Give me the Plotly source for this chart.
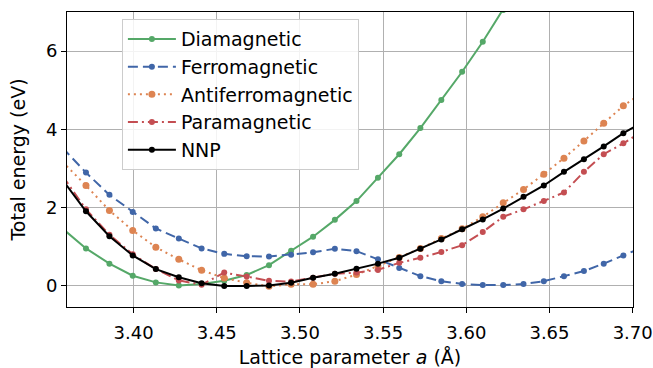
import plotly.graph_objects as go

# Lattice parameter grid (Å)
lattice = [3.3572, 3.3714, 3.3855, 3.3995, 3.4134, 3.4272, 3.4409, 3.4545,
           3.4680, 3.4814, 3.4947, 3.5079, 3.5210, 3.5340, 3.5469, 3.5597,
           3.5724, 3.5850, 3.5975, 3.6099, 3.6222, 3.6344, 3.6466, 3.6587,
           3.6707, 3.6826, 3.6944, 3.7062]

# Total energies (eV) for each magnetic configuration
diamagnetic = [1.46, 0.95, 0.56, 0.25, 0.08, 0.00, 0.04, 0.12, 0.27, 0.52,
               0.89, 1.25, 1.68, 2.16, 2.76, 3.36, 4.03, 4.75, 5.47, 6.24,
               7.05, 7.90]
ferromagnetic = [3.53, 2.89, 2.32, 1.88, 1.46, 1.20, 0.95, 0.81, 0.75, 0.74,
                 0.79, 0.85, 0.94, 0.88, 0.67, 0.45, 0.24, 0.11, 0.04, 0.01,
                 0.01, 0.04, 0.11, 0.24, 0.37, 0.56, 0.77, 0.98]
antiferromagnetic = [3.17, 2.56, 1.92, 1.41, 0.98, 0.67, 0.39, 0.19, 0.07, -0.02,
                     0.03, 0.03, 0.11, 0.28, 0.50, 0.72, 0.95, 1.20, 1.45, 1.76,
                     2.12, 2.46, 2.85, 3.26, 3.70, 4.15, 4.60, 4.94]
paramagnetic = [2.81, 1.95, 1.30, 0.80, 0.42, 0.13, 0.02, 0.33, 0.23, 0.12,
                0.10, 0.20, 0.30, 0.33, 0.40, 0.58, 0.71, 0.86, 1.03, 1.37,
                1.76, 1.95, 2.16, 2.38, 2.91, 3.36, 3.64, 3.95]
nnp = [2.71, 1.90, 1.26, 0.77, 0.42, 0.21, 0.06, -0.01, -0.01, 0.00,
       0.07, 0.20, 0.30, 0.43, 0.56, 0.71, 0.94, 1.18, 1.44, 1.69,
       1.97, 2.27, 2.56, 2.91, 3.23, 3.56, 3.90, 4.19]

x_ticks = [3.40, 3.45, 3.50, 3.55, 3.60, 3.65, 3.70]
y_ticks = [0, 2, 4, 6]

series = [
    ("Diamagnetic", diamagnetic, "#55A868", "solid", 6),
    ("Ferromagnetic", ferromagnetic, "#4066A8", "10px,5px", 6),
    ("Antiferromagnetic", antiferromagnetic, "#DD8452", "2px,4px", 7),
    ("Paramagnetic", paramagnetic, "#C44E52", "10px,4px,2px,4px", 6),
    ("NNP", nnp, "#000000", "solid", 6),
]

fig = go.Figure()
for name, values, color, dash, msize in series:
    fig.add_trace(go.Scatter(
        x=lattice[:len(values)], y=values, name=name, legendgroup=name,
        mode="lines+markers",
        line=dict(color=color, width=2, dash=dash),
        marker=dict(color=color, size=msize),
    ))

font = "DejaVu Sans, Arial, sans-serif"
fs = 19
tick_fs = 18
axis_common = dict(
    showline=True, linecolor="black", linewidth=1, mirror=True,
    ticks="outside", ticklen=5, tickcolor="black",
    showgrid=True, gridcolor="#b0b0b0", gridwidth=1,
    zeroline=False, automargin=False, ticklabeloverflow="allow",
    tickfont=dict(family=font, size=tick_fs, color="black"),
)

fig.update_layout(
    width=653, height=368,
    margin=dict(l=67, r=20, t=12, b=61),
    paper_bgcolor="white", plot_bgcolor="white",
    font=dict(family=font, size=fs, color="black"),
    xaxis=dict(range=[3.36, 3.7002], tickvals=x_ticks, tickformat=".2f",
               ticklabelstandoff=4,
               title=dict(text="Lattice parameter <i>a</i> (Å)",
                          font=dict(family=font, size=fs)),
               **axis_common),
    yaxis=dict(range=[-0.55, 7.0], tickvals=y_ticks,
               title=dict(text="Total energy (eV)",
                          font=dict(family=font, size=fs)),
               **axis_common),
    legend=dict(x=0.097, y=0.976, xanchor="left", yanchor="top",
                bgcolor="rgba(255,255,255,0.85)", bordercolor="#cccccc",
                borderwidth=1, font=dict(family=font, size=fs),
                tracegroupgap=0, itemwidth=48),
    showlegend=True,
)

fig.write_html("out.html")
